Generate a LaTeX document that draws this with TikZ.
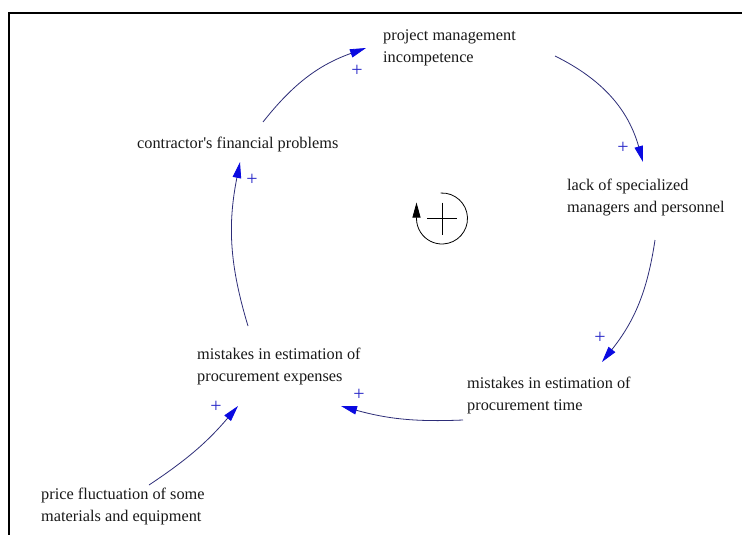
\documentclass[tikz,border=0pt]{standalone}
\usepackage{fontspec}
\setmainfont{Liberation Serif}
\usetikzlibrary{arrows.meta,calc}

\definecolor{linknavy}{RGB}{45,45,120}
\definecolor{headblue}{RGB}{10,10,225}
\definecolor{signblue}{RGB}{40,40,200}

\tikzset{
  % multi-line labels are anchored at the baseline of their last line
  var/.style={anchor=base west, align=left, inner sep=0pt,
    font=\fontsize{16.3}{22}\selectfont, text=black!90},
  link/.style={draw=linknavy, line width=0.8pt,
    -{Triangle[length=16pt,width=8.5pt,color=headblue]}},
  pol/.style={text=signblue, inner sep=0pt, font=\fontsize{20}{20}\selectfont},
  frameline/.style={line width=2pt, black},
}

\begin{document}
\begin{tikzpicture}[x=1pt,y=1pt]
\useasboundingbox (0,0) rectangle (742,-535);
\fill[white] (0,0) rectangle (742,-535);

% open frame: left and top edges
\draw[frameline] (8.5,-535) -- (8.5,-13) -- (742,-13);

% variables
\node[var] (pmi)  at (383,-63)  {project management\\incompetence};
\node[var] (cfp)  at (137,-148) {contractor\textquotesingle s financial problems};
\node[var] (lsm)  at (567,-212) {lack of specialized\\managers and personnel};
\node[var] (mee)  at (197,-381) {mistakes in estimation of\\procurement expenses};
\node[var] (met)  at (467,-410) {mistakes in estimation of\\procurement time};
\node[var] (pfl)  at (41,-521)  {price fluctuation of some\\materials and equipment};

% link end points
\coordinate (cfp-out) at (263,-122);
\coordinate (pmi-in)  at (366,-48);
\coordinate (pmi-out) at (555,-56);
\coordinate (lsm-in)  at (643,-162);
\coordinate (lsm-out) at (655,-240);
\coordinate (met-in)  at (602,-362);
\coordinate (met-out) at (463,-420);
\coordinate (mee-in)  at (341,-406);
\coordinate (mee-out) at (248,-326);
\coordinate (cfp-in)  at (240,-162);
\coordinate (pfl-out) at (149,-485);
\coordinate (mee-in2) at (238,-406);

% causal links
\draw[link] (cfp-out) to[bend left=16] (pmi-in);
\draw[link] (pmi-out) to[bend left=24] (lsm-in);
\draw[link] (lsm-out) to[bend left=15] (met-in);
\draw[link] (met-out) to[bend left=9]  (mee-in);
\draw[link] (mee-out) to[bend left=14] (cfp-in);
\draw[link] (pfl-out) to[bend right=8] (mee-in2);

% link polarities
\node[pol] (p1) at (357,-71)  {+};
\node[pol] (p2) at (623,-148) {+};
\node[pol] (p3) at (600,-338) {+};
\node[pol] (p4) at (359,-395) {+};
\node[pol] (p5) at (252,-180) {+};
\node[pol] (p6) at (216,-407) {+};

% reinforcing loop marker
\coordinate (loopc) at (442,-218.5);
\draw[line width=0.8pt, -{Triangle[length=15pt,width=8pt]}]
  ($(loopc)+(93:25.5)$) arc[start angle=93, end angle=-180, radius=25.5]
  -- ++(0,16);
\draw[line width=1pt] ($(loopc)+(-15,0)$) -- ($(loopc)+(15,0)$);
\draw[line width=1pt] ($(loopc)+(0,16)$) -- ($(loopc)+(0,-16.5)$);
\end{tikzpicture}
\end{document}
